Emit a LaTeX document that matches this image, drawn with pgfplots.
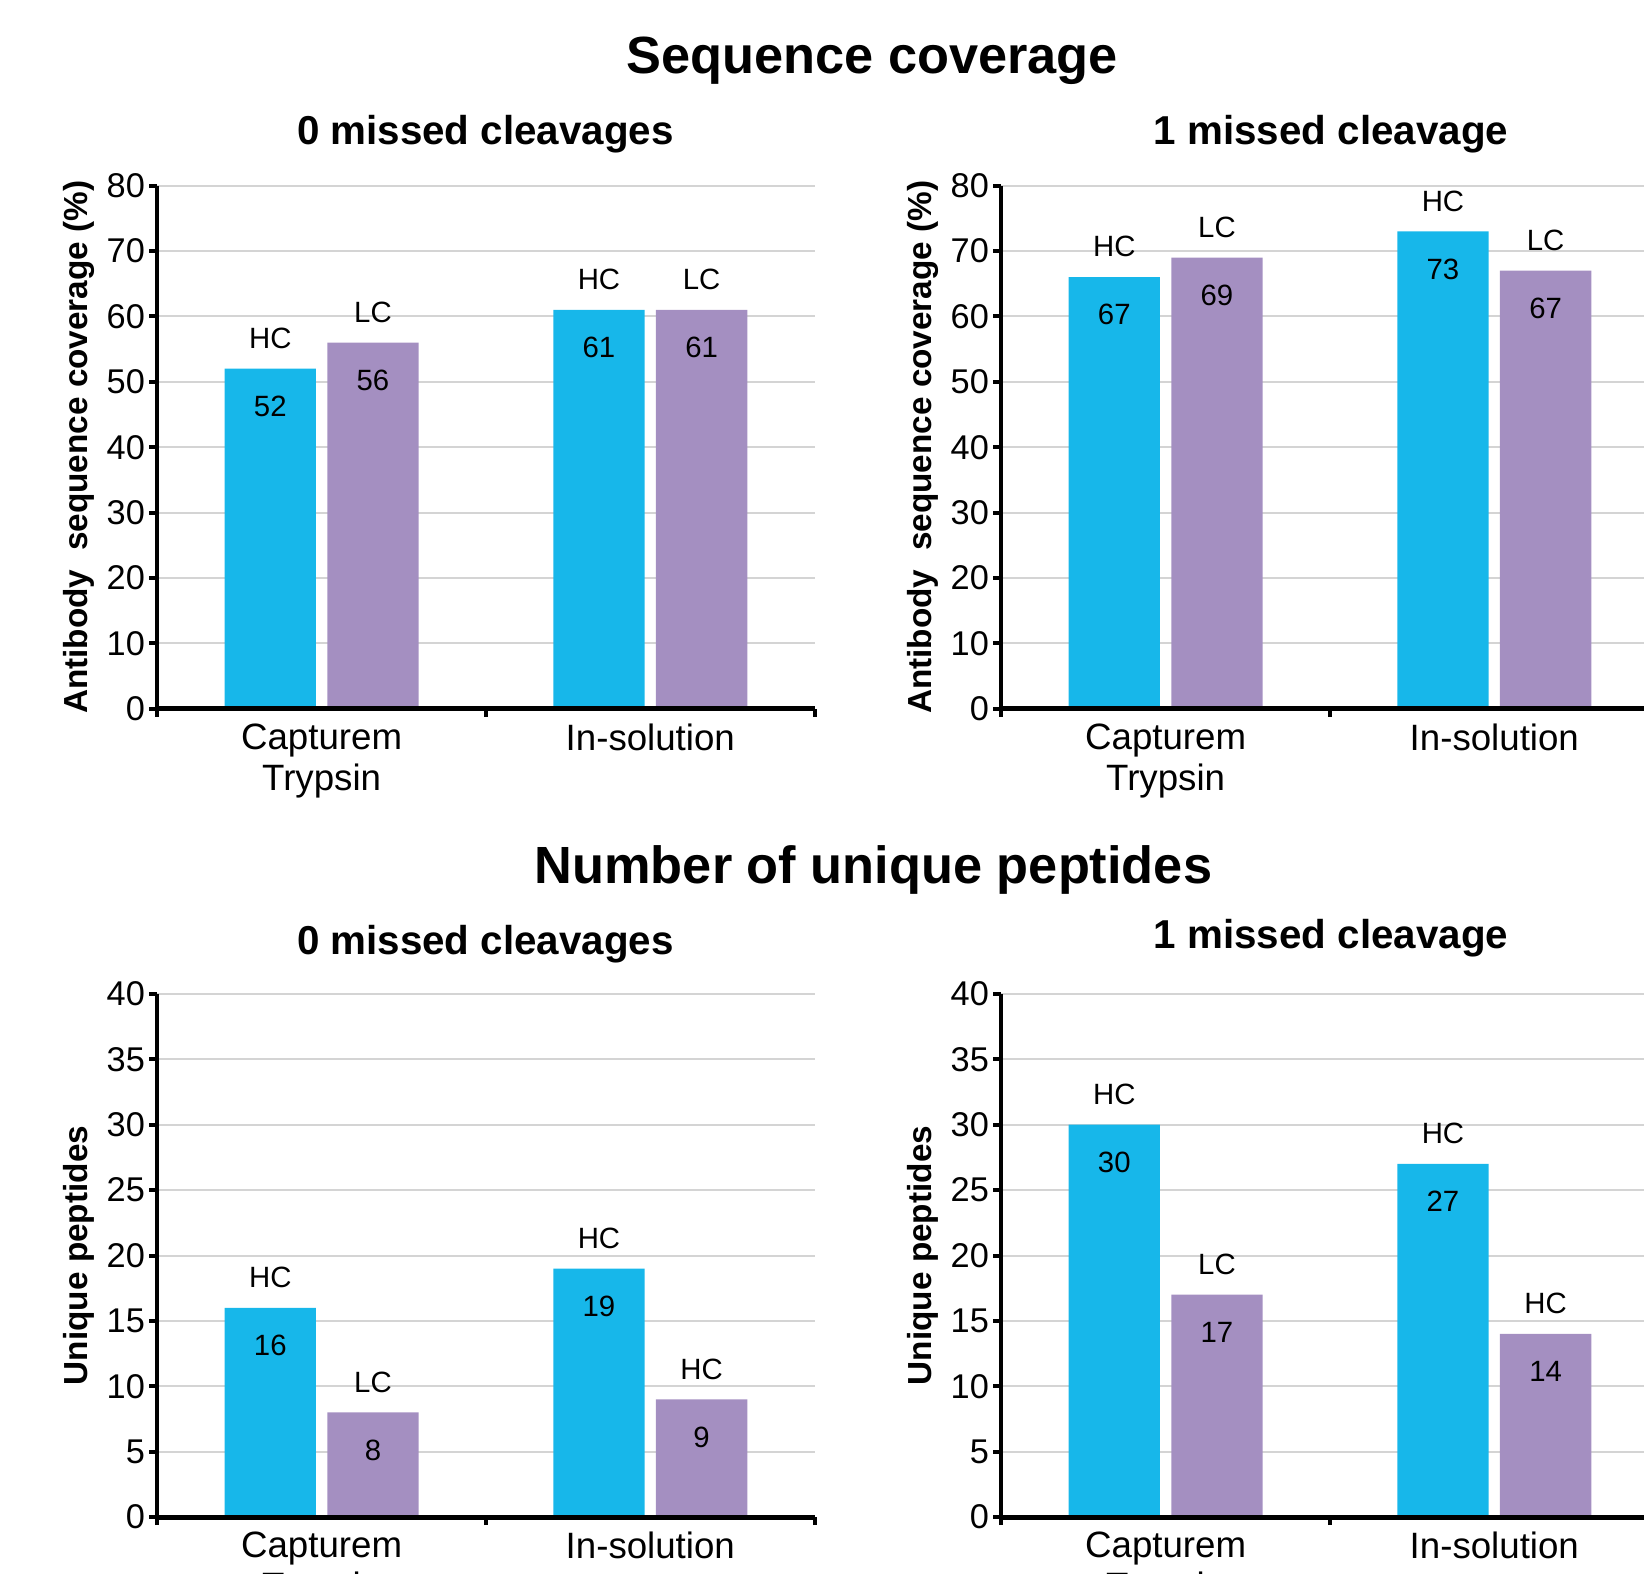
\documentclass[border=0pt]{standalone}
\usepackage{fontspec}
\setmainfont{Liberation Sans}
\usepackage{pgfplots}
\pgfplotsset{compat=1.18}
\definecolor{hcblue}{HTML}{17B7EA}
\definecolor{lcpurple}{HTML}{A48FC1}
\definecolor{gridgray}{HTML}{D4D4D4}
\pgfplotsset{
  panel/.style={
    scale only axis, width=197.2pt, height=156.96pt,
    anchor=south west,
    /pgf/number format/assume math mode=true,
    axis lines=left, axis line style={-, black},
    y axis line style={line width=1.2pt},
    xmin=-0.5, xmax=1.5, ymin=0,
    xtick={-0.5,0.5,1.5}, xticklabels={},
    extra x ticks={0,1},
    extra x tick style={major tick length=0pt},
    xticklabel style={align=center, font=\fontsize{11}{12.3}\selectfont, yshift=-1pt},
    tick align=outside, major tick length=2.4pt,
    tick style={black, line width=1.2pt},
    ymajorgrids, grid style={gridgray, line width=0.6pt},
    yticklabel style={font=\fontsize{10.3}{11}\selectfont, xshift=2.2pt},
    ylabel style={at={(axis description cs:-0.1197,0.5)}, anchor=center, font=\bfseries\fontsize{10}{12}\selectfont},
    ybar, bar width=27.4pt,
    clip=false,
    after end axis/.code={\draw[line width=1.5pt, black] (rel axis cs:0,0) -- (rel axis cs:1,0);},
  },
  hc/.style={fill=hcblue, draw=none, bar shift=-15.4pt},
  lc/.style={fill=lcpurple, draw=none, bar shift=15.4pt},
  vals/.style={point meta=explicit symbolic, nodes near coords,
    nodes near coords style={anchor=center, yshift=-11.3pt, font=\fontsize{8.8}{10}\selectfont, text=black}},
  labs/.style={draw=none, fill=none, forget plot, point meta=explicit symbolic, nodes near coords,
    nodes near coords style={anchor=center, yshift=9.1pt, font=\fontsize{8.8}{10}\selectfont, text=black}},
}
\begin{document}
\begin{tikzpicture}
\useasboundingbox (0,0) rectangle (493.2pt,471.9pt);
\clip (0,0) rectangle (493.2pt,471.9pt);
\node[font=\bfseries\fontsize{15.7}{18}\selectfont] at (261.69pt,453.6pt) {Sequence coverage};
\node[font=\bfseries\fontsize{12.1}{14}\selectfont] at (145.62pt,431.6pt) {0 missed cleavages};
\node[font=\bfseries\fontsize{12.1}{14}\selectfont] at (399.3pt,431.6pt) {1 missed cleavage};
\node[font=\bfseries\fontsize{15.7}{18}\selectfont] at (262.02pt,210.8pt) {Number of unique peptides};
\node[font=\bfseries\fontsize{12.1}{14}\selectfont] at (145.62pt,188.8pt) {0 missed cleavages};
\node[font=\bfseries\fontsize{12.1}{14}\selectfont] at (399.3pt,190.6pt) {1 missed cleavage};

% Top left
\begin{axis}[panel, at={(47.19pt,259.26pt)}, ymax=80, ytick={0,10,...,80},
  ylabel={Antibody\ \ sequence coverage (\%)},
  extra x tick labels={{Capturem\\Trypsin},{In-solution}}]
\addplot[hc, vals] table[meta=v, row sep=\\] {x y v\\ 0 52 52\\ 1 61 61\\};
\addplot[hc, labs] table[meta=v, row sep=\\] {x y v\\ 0 52 HC\\ 1 61 HC\\};
\addplot[lc, vals] table[meta=v, row sep=\\] {x y v\\ 0 56 56\\ 1 61 61\\};
\addplot[lc, labs] table[meta=v, row sep=\\] {x y v\\ 0 56 LC\\ 1 61 LC\\};
\end{axis}

% Top right
\begin{axis}[panel, at={(300.39pt,259.26pt)}, ymax=80, ytick={0,10,...,80},
  ylabel={Antibody\ \ sequence coverage (\%)},
  extra x tick labels={{Capturem\\Trypsin},{In-solution}}]
\addplot[hc, vals] table[meta=v, row sep=\\] {x y v\\ 0 66 67\\ 1 73 73\\};
\addplot[hc, labs] table[meta=v, row sep=\\] {x y v\\ 0 66 HC\\ 1 73 HC\\};
\addplot[lc, vals] table[meta=v, row sep=\\] {x y v\\ 0 69 69\\ 1 67 67\\};
\addplot[lc, labs] table[meta=v, row sep=\\] {x y v\\ 0 69 LC\\ 1 67 LC\\};
\end{axis}

% Bottom left
\begin{axis}[panel, at={(47.19pt,16.77pt)}, ymax=40, ytick={0,5,...,40},
  ylabel={Unique peptides},
  extra x tick labels={{Capturem\\Trypsin},{In-solution}}]
\addplot[hc, vals] table[meta=v, row sep=\\] {x y v\\ 0 16 16\\ 1 19 19\\};
\addplot[hc, labs] table[meta=v, row sep=\\] {x y v\\ 0 16 HC\\ 1 19 HC\\};
\addplot[lc, vals] table[meta=v, row sep=\\] {x y v\\ 0 8 8\\ 1 9 9\\};
\addplot[lc, labs] table[meta=v, row sep=\\] {x y v\\ 0 8 LC\\ 1 9 HC\\};
\end{axis}

% Bottom right
\begin{axis}[panel, at={(300.39pt,16.77pt)}, ymax=40, ytick={0,5,...,40},
  ylabel={Unique peptides},
  extra x tick labels={{Capturem\\Trypsin},{In-solution}}]
\addplot[hc, vals] table[meta=v, row sep=\\] {x y v\\ 0 30 30\\ 1 27 27\\};
\addplot[hc, labs] table[meta=v, row sep=\\] {x y v\\ 0 30 HC\\ 1 27 HC\\};
\addplot[lc, vals] table[meta=v, row sep=\\] {x y v\\ 0 17 17\\ 1 14 14\\};
\addplot[lc, labs] table[meta=v, row sep=\\] {x y v\\ 0 17 LC\\ 1 14 HC\\};
\end{axis}
\end{tikzpicture}
\end{document}
